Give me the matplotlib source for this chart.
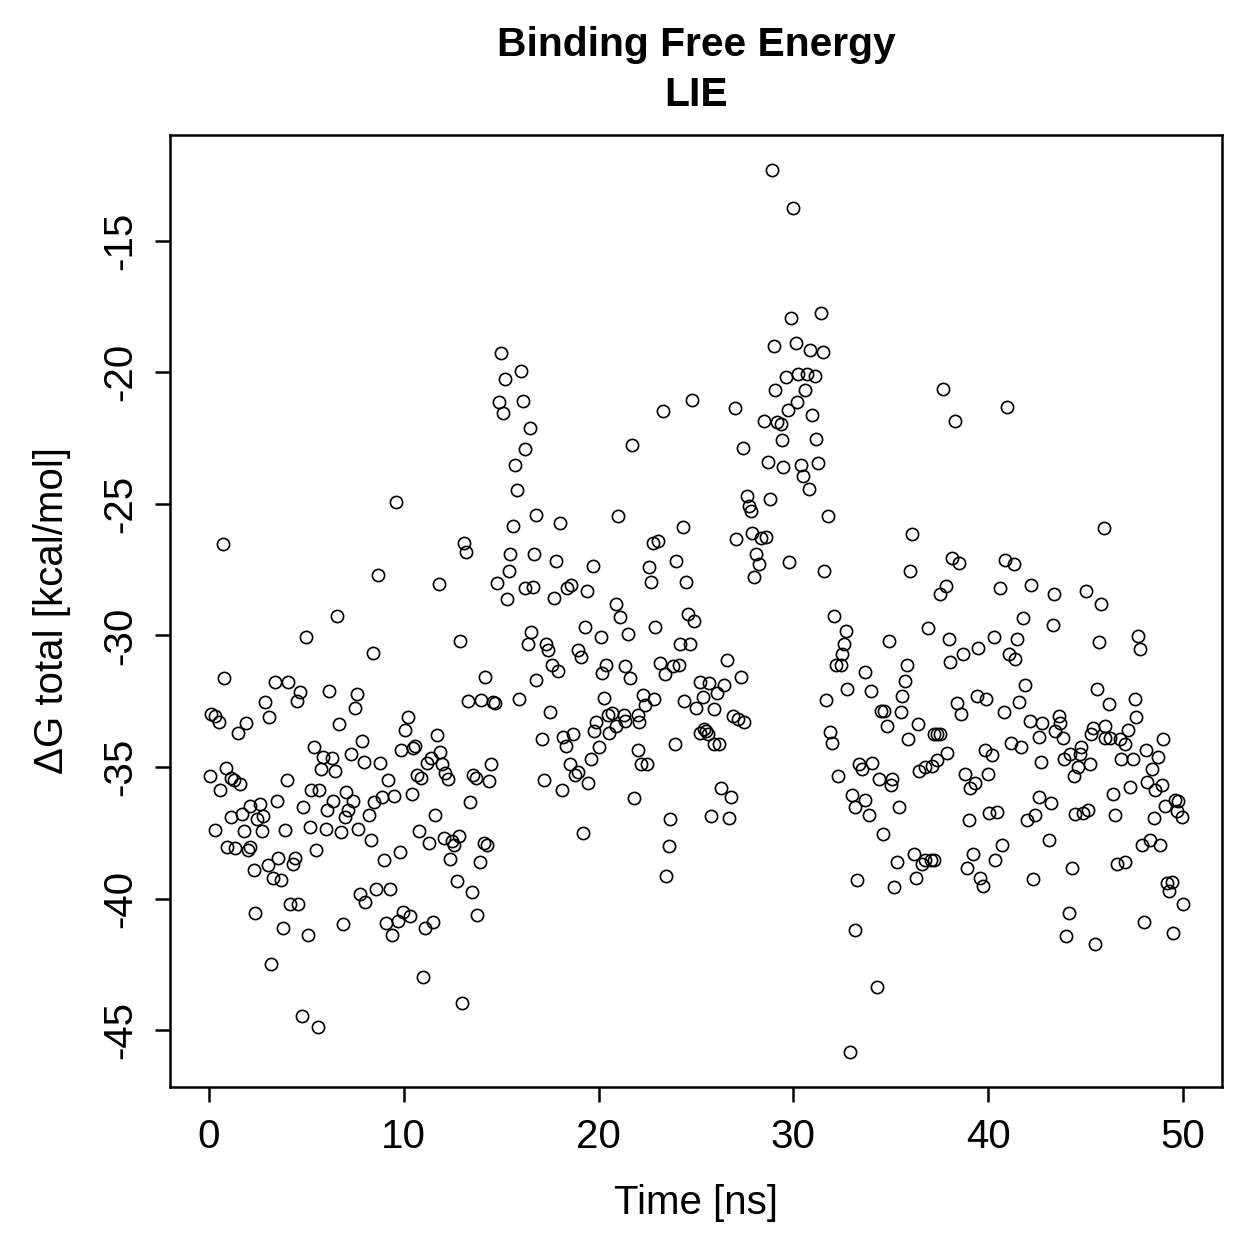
import matplotlib
matplotlib.use("Agg")
import matplotlib.pyplot as plt
import numpy as np

plt.rcParams['font.family'] = ['Liberation Sans', 'DejaVu Sans']

# values, in segments along the time axis
t_a = [0.70, 6.59, 4.99, 0.79, 3.40, 4.08, 4.70, 4.52, 6.18, 7.58, 7.48, 2.89, 3.09, 0.12, 0.32,
       0.50, 1.90, 1.47, 6.69, 5.38, 5.87, 6.30, 6.49, 5.75, 7.27, 7.84, 7.94, 0.07, 0.89, 0.58,
       1.13, 1.30, 1.61, 3.99, 5.23, 5.67, 3.50, 4.85, 6.06, 6.39, 7.03, 7.39, 7.15, 6.98, 2.12,
       2.60, 1.11, 1.69, 2.46, 2.80, 0.29, 1.78, 2.72, 3.88, 5.19, 5.99, 6.78, 7.67, 0.92, 1.35,
       2.03, 2.13, 5.48, 2.29, 3.02, 3.57, 3.28, 3.69, 4.29, 4.42, 7.75, 8.01, 4.18, 4.59, 2.37,
       3.79, 5.07, 6.90, 3.18, 4.76, 5.58]
dg_a = [-26.54, -29.26, -30.06, -31.62, -31.78, -31.78, -32.16, -32.47, -32.11, -32.22, -32.74,
        -32.51, -33.11, -33.00, -33.05, -33.27, -33.34, -33.72, -33.38, -34.25, -34.60, -34.67,
        -35.16, -35.07, -34.50, -34.00, -34.80, -35.32, -35.05, -35.85, -35.43, -35.50, -35.65,
        -35.50, -35.85, -35.85, -36.28, -36.50, -36.63, -36.30, -35.94, -36.28, -36.63, -36.90,
        -36.46, -36.41, -36.90, -36.79, -36.97, -36.86, -37.39, -37.41, -37.41, -37.39, -37.28,
        -37.35, -37.46, -37.35, -38.02, -38.06, -38.15, -38.02, -38.13, -38.90, -38.73, -38.46,
        -39.20, -39.28, -38.68, -38.46, -39.80, -40.13, -40.18, -40.18, -40.55, -41.11, -41.36,
        -40.95, -42.47, -44.47, -44.88]

t_b = [15.01, 16.00, 15.22, 14.87, 15.11, 16.10, 16.48, 16.21, 15.69, 15.80, 16.80, 9.61, 15.61,
       15.47, 16.68, 13.11, 13.20, 15.39, 14.77, 15.30, 16.24, 16.63, 8.69, 11.80, 8.42, 12.89,
       16.55, 16.38, 16.80, 14.19, 13.29, 13.99, 14.58, 14.70, 15.90, 10.21, 10.07, 11.70, 9.85,
       10.49, 10.57, 11.87, 8.79, 11.17, 11.39, 11.94, 10.66, 10.91, 12.14, 12.28, 9.20, 13.54,
       13.71, 14.50, 14.38, 8.49, 8.90, 9.49, 10.40, 8.21, 13.41, 11.59, 8.30, 10.79, 11.29,
       12.06, 12.47, 12.82, 12.60, 14.11, 14.29, 9.00, 9.80, 12.38, 13.90, 12.72, 13.49, 8.57,
       9.31, 9.07, 9.72, 9.41, 9.97, 10.31, 11.08, 11.51, 13.78, 11.00, 13.00]
dg_b = [-19.26, -19.97, -20.26, -21.15, -21.55, -21.11, -22.13, -22.91, -23.51, -24.47, -25.43,
        -24.94, -25.85, -26.92, -26.90, -26.48, -26.83, -27.55, -28.01, -28.61, -28.21, -28.15,
        -27.72, -28.06, -30.66, -30.22, -29.88, -30.33, -31.69, -31.58, -32.49, -32.45, -32.51,
        -32.58, -32.40, -33.11, -33.60, -33.78, -34.36, -34.29, -34.18, -34.43, -34.83, -34.85,
        -34.67, -34.87, -35.29, -35.41, -35.23, -35.45, -35.48, -35.29, -35.41, -34.87, -35.52,
        -36.32, -36.12, -36.08, -36.03, -36.81, -36.34, -36.83, -37.75, -37.44, -37.90, -37.68,
        -37.79, -37.61, -37.97, -37.90, -37.95, -38.53, -38.24, -38.48, -38.59, -39.31, -39.75,
        -39.62, -39.64, -40.91, -40.84, -41.36, -40.51, -40.64, -41.11, -40.87, -40.62, -42.98,
        -43.94]

t_c = [24.81, 23.31, 21.70, 18.00, 21.00, 24.32, 22.80, 23.07, 17.79, 19.71, 22.61, 24.00, 22.69,
       24.49, 17.69, 18.39, 18.60, 19.40, 20.90, 21.09, 21.50, 19.28, 20.10, 22.90, 24.57, 24.91,
       17.32, 17.40, 18.97, 19.11, 24.20, 24.71, 17.61, 17.91, 20.39, 20.17, 21.38, 21.60, 23.17,
       23.41, 23.80, 24.15, 25.19, 20.30, 22.30, 22.40, 22.87, 24.40, 25.00, 25.34, 17.50, 17.11,
       18.17, 18.31, 18.68, 18.51, 18.77, 18.97, 17.20, 18.12, 19.59, 19.48, 19.89, 20.01, 19.79,
       20.47, 20.71, 20.51, 20.90, 21.29, 21.38, 22.01, 22.10, 22.01, 22.18, 22.47, 23.92, 25.22,
       25.43, 21.81, 19.19, 23.68, 23.60, 23.48]
dg_c = [-21.06, -21.46, -22.76, -25.74, -25.47, -25.87, -26.50, -26.43, -27.19, -27.37, -27.39,
        -27.19, -27.95, -27.97, -28.59, -28.21, -28.08, -28.32, -28.81, -29.31, -29.93, -29.66,
        -30.04, -29.66, -29.19, -29.46, -30.33, -30.57, -30.55, -30.80, -30.33, -30.31, -31.11,
        -31.35, -31.13, -31.42, -31.15, -31.62, -31.04, -31.47, -31.15, -31.11, -31.78, -32.38,
        -32.25, -32.65, -32.40, -32.49, -32.74, -32.33, -32.89, -33.92, -33.87, -34.20, -33.74,
        -34.90, -35.28, -35.19, -35.48, -35.88, -34.69, -35.61, -33.27, -34.23, -33.63, -33.02,
        -32.96, -33.69, -33.45, -33.02, -33.23, -33.02, -33.27, -34.36, -34.90, -34.87, -34.14,
        -33.71, -33.56, -36.17, -37.50, -36.97, -37.99, -39.13]

t_d = [28.88, 30.00, 31.40, 29.87, 29.01, 30.12, 30.86, 31.51, 29.61, 30.26, 30.69, 31.11, 29.08,
       30.60, 30.21, 27.00, 29.73, 30.98, 28.50, 29.18, 29.35, 31.18, 29.41, 27.39, 28.72, 29.49,
       30.38, 30.50, 31.28, 30.81, 27.60, 27.73, 27.82, 28.79, 31.78, 27.08, 27.90, 28.33, 28.59,
       28.07, 28.23, 27.99, 29.78, 31.59, 32.09, 32.68, 32.60, 32.51, 32.17, 32.43, 26.59, 25.68,
       26.08, 26.45, 27.31, 25.91, 25.51, 25.63, 25.94, 26.20, 26.88, 27.14, 27.48, 26.31, 26.79,
       25.77, 26.71, 33.69, 32.77, 34.00, 31.68, 31.87, 32.00, 32.27, 33.38, 33.54, 34.05, 33.03,
       33.15, 33.67, 33.88, 33.28, 33.18, 32.89]
dg_d = [-12.33, -13.78, -17.77, -17.94, -19.01, -18.90, -19.17, -19.24, -20.19, -20.06, -20.06,
        -20.15, -20.66, -20.66, -21.13, -21.37, -21.42, -21.62, -21.84, -21.91, -21.98, -22.53,
        -22.58, -22.87, -23.42, -23.62, -23.53, -23.94, -23.45, -24.43, -24.72, -25.09, -25.27,
        -24.83, -25.47, -26.32, -26.12, -26.28, -26.25, -26.92, -27.28, -27.79, -27.21, -27.57,
        -29.26, -29.84, -30.33, -30.71, -31.11, -31.11, -30.95, -31.82, -32.18, -31.89, -31.58,
        -32.78, -33.63, -33.74, -34.12, -34.12, -33.07, -33.16, -33.27, -35.79, -36.12, -36.86,
        -36.95, -31.40, -32.02, -32.11, -32.45, -33.67, -34.07, -35.34, -34.90, -35.07, -34.83,
        -36.05, -36.50, -36.23, -36.83, -39.28, -41.18, -45.81]

t_e = [37.69, 38.30, 40.97, 36.10, 35.98, 38.15, 38.49, 40.88, 41.31, 37.81, 37.55, 40.59, 42.21,
       41.79, 36.92, 34.90, 38.01, 40.28, 41.48, 35.81, 38.06, 38.71, 39.48, 41.05, 41.39, 35.71,
       35.59, 41.87, 34.48, 34.65, 35.50, 34.79, 36.41, 38.40, 38.61, 39.40, 39.91, 40.80, 41.60,
       42.13, 42.76, 42.59, 35.89, 37.21, 37.38, 37.55, 37.89, 39.81, 40.22, 41.19, 41.70, 42.71,
       36.44, 36.75, 37.12, 37.38, 34.39, 35.08, 34.99, 38.80, 39.09, 39.31, 39.99, 35.42, 34.61,
       39.00, 40.06, 40.45, 41.99, 42.42, 42.59, 40.71, 40.37, 35.33, 36.18, 36.61, 36.78, 37.04,
       37.21, 36.30, 35.19, 38.92, 39.21, 39.60, 39.72, 42.30, 34.31]
dg_e = [-20.64, -21.86, -21.31, -26.16, -27.57, -27.06, -27.26, -27.14, -27.28, -28.12, -28.44,
        -28.21, -28.08, -29.33, -29.73, -30.20, -30.13, -30.04, -30.13, -31.11, -31.02, -30.69,
        -30.49, -30.71, -30.91, -31.73, -32.29, -31.87, -32.85, -32.85, -32.89, -33.45, -33.38,
        -32.56, -33.00, -32.31, -32.40, -32.89, -32.54, -33.23, -33.34, -33.85, -33.92, -33.76,
        -33.76, -33.76, -34.45, -34.36, -34.54, -34.09, -34.23, -34.79, -35.16, -35.01, -34.96,
        -34.74, -35.45, -35.45, -35.67, -35.25, -35.79, -35.61, -35.25, -36.50, -37.53, -37.01,
        -36.75, -36.72, -37.01, -36.81, -36.12, -37.95, -38.53, -38.59, -38.31, -38.68, -38.53,
        -38.51, -38.51, -39.22, -39.57, -38.82, -38.31, -39.22, -39.53, -39.26, -43.36]

t_f = [45.92, 43.39, 45.00, 45.80, 43.31, 45.71, 47.68, 47.80, 45.61, 46.21, 47.51, 47.59, 43.61,
       43.70, 43.44, 43.84, 44.77, 45.37, 45.27, 46.00, 46.00, 46.26, 46.77, 47.03, 47.20, 48.99,
       48.10, 48.70, 48.40, 43.90, 44.18, 44.69, 44.60, 44.38, 45.20, 46.81, 47.42, 47.28, 48.17,
       48.57, 48.91, 46.40, 43.24, 44.48, 44.86, 45.12, 46.50, 48.53, 49.09, 49.59, 49.76, 49.67,
       49.93, 43.12, 47.88, 48.31, 48.82, 44.30, 46.60, 47.03, 49.16, 49.42, 49.30, 50.02, 44.13,
       44.01, 45.49, 48.00, 49.50]
dg_f = [-25.90, -28.44, -28.30, -28.82, -29.62, -30.24, -30.02, -30.51, -32.02, -32.62, -32.40,
        -33.11, -33.07, -33.34, -33.63, -33.89, -34.23, -33.52, -33.74, -33.43, -33.89, -33.89,
        -33.94, -34.12, -33.60, -33.94, -34.34, -34.61, -35.07, -34.69, -34.49, -34.49, -35.01,
        -35.34, -34.90, -34.69, -34.69, -35.74, -35.56, -35.85, -35.67, -36.01, -36.37, -36.79,
        -36.75, -36.63, -36.83, -36.92, -36.46, -36.23, -36.30, -36.68, -36.90, -37.75, -37.95,
        -37.75, -37.97, -38.82, -38.68, -38.59, -39.40, -39.35, -39.69, -40.20, -40.53, -41.40,
        -41.71, -40.87, -41.31]

x_ticks = [0, 10, 20, 30, 40, 50]
y_ticks = [-45, -40, -35, -30, -25, -20, -15]

time_ns = np.concatenate([t_a, t_b, t_c, t_d, t_e, t_f])
dg_total = np.concatenate([dg_a, dg_b, dg_c, dg_d, dg_e, dg_f])

fig = plt.figure(figsize=(6.295, 6.295), dpi=200)
ax = fig.add_axes([0.135, 0.1366, 0.8356, 0.7562])

ax.plot(time_ns, dg_total, 'o', mfc='none', mec='black', ms=4.4, mew=0.6)

# R style 4% padding
lo, hi = dg_total.min(), dg_total.max()
pad = 0.04 * (hi - lo)
ax.set_ylim(lo - pad, hi + pad)
ax.set_xlim(-2, 52)

ax.set_xticks(x_ticks)
ax.set_yticks(y_ticks)
ax.set_yticklabels([str(v) for v in y_ticks], rotation=90, va='center')
ax.tick_params(direction='out', length=5.5, width=0.9, labelsize=14.5, pad=5.5)
for s in ax.spines.values():
    s.set_linewidth(0.9)

ax.set_xlabel('Time [ns]', fontsize=14.5)
ax.set_ylabel('\u0394G total [kcal/mol]', fontsize=14.5)
ax.xaxis.set_label_coords(0.5, -0.1218)
ax.xaxis.label.set_va('center')
ax.yaxis.set_label_coords(-0.1122, 0.5)
ax.yaxis.label.set_va('center')

fig.text(0.5528, 1 - 45 / 1259, 'Binding Free Energy', ha='center', va='center',
         fontsize=14.7, fontweight='bold')
fig.text(0.5528, 1 - 95 / 1259, 'LIE', ha='center', va='center',
         fontsize=14.7, fontweight='bold')

fig.savefig('out.png', dpi=200)
